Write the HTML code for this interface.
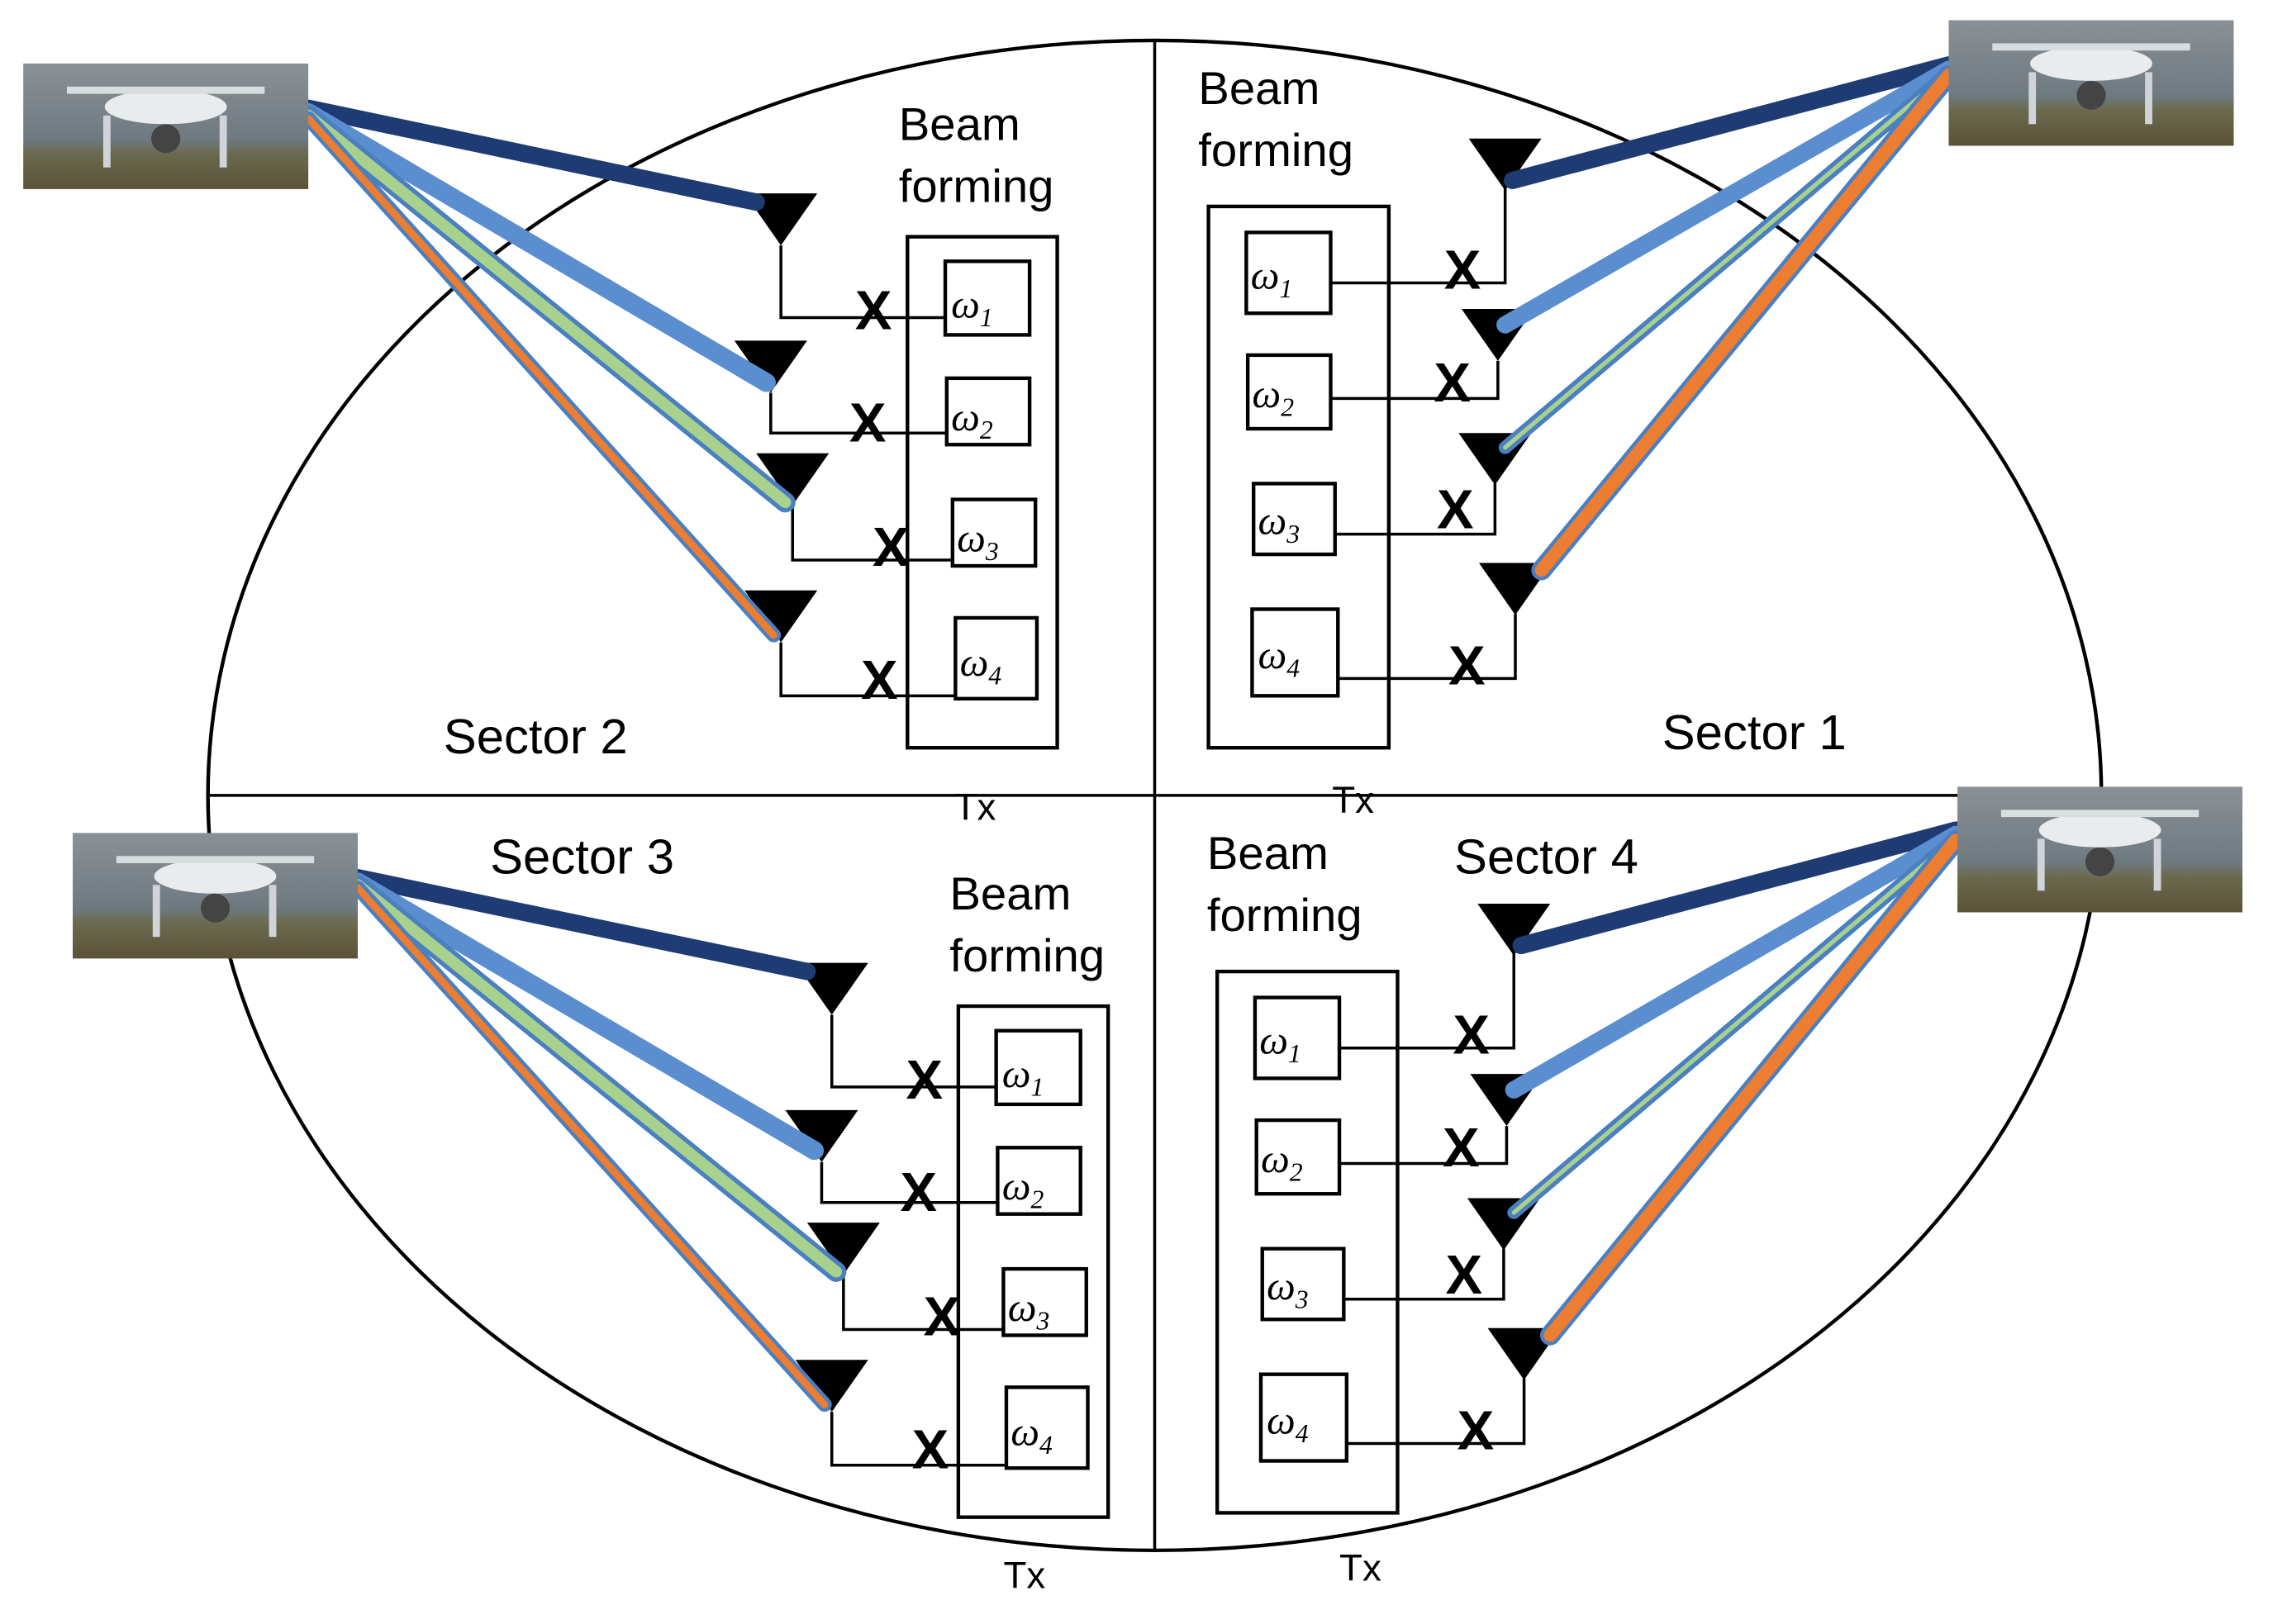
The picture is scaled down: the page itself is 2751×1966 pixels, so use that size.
<!DOCTYPE html>
<html><head><meta charset="utf-8"><style>
html,body{margin:0;padding:0;background:#fff;}
svg{display:block;}
text{font-family:"Liberation Sans",sans-serif;fill:#000;}
.w{font-family:"Liberation Serif",serif;font-style:italic;font-size:28px;}
.s{font-family:"Liberation Serif",serif;font-size:18px;}
.x{font-size:38px;font-weight:bold;}
.bf{font-size:32px;}
</style></head><body>
<svg width="2751" height="1966" viewBox="0 0 1563 1125" preserveAspectRatio="none" xmlns="http://www.w3.org/2000/svg">
<defs>
<linearGradient id="dg" x1="0" y1="0" x2="0" y2="1">
<stop offset="0" stop-color="#8a9096"/><stop offset="0.6" stop-color="#6f7a80"/><stop offset="0.72" stop-color="#6b6a4e"/><stop offset="1" stop-color="#5a5238"/></linearGradient>
<g id="drone">
<rect x="0" y="0" width="196" height="87" fill="url(#dg)"/>
<ellipse cx="98" cy="30" rx="42" ry="12" fill="#e8ecef"/>
<rect x="30" y="16" width="136" height="5" fill="#d8dde0"/>
<rect x="55" y="36" width="5" height="36" fill="#d0d4d8"/>
<rect x="135" y="36" width="5" height="36" fill="#d0d4d8"/>
<circle cx="98" cy="52" r="10" fill="#444"/>
</g>
<g id="tri"><polygon points="-25,0 25,0 0,36" fill="#000"/></g>
</defs>

<ellipse cx="794" cy="551" rx="651" ry="523" fill="none" stroke="#000" stroke-width="2.5"/>
<line x1="794" y1="28" x2="794" y2="1075" stroke="#000" stroke-width="2"/>
<line x1="143" y1="551" x2="1445" y2="551" stroke="#000" stroke-width="2"/>

<!-- Sector 2 -->
<g stroke="#000" stroke-width="2" fill="none">
<rect x="624" y="164" width="103" height="354" stroke-width="2.5"/>
<rect x="650" y="181" width="58" height="51" stroke-width="2.5"/>
<rect x="651" y="262" width="57" height="46" stroke-width="2.5"/>
<rect x="655" y="346" width="57" height="46" stroke-width="2.5"/>
<rect x="657" y="428" width="56" height="56" stroke-width="2.5"/>
<polyline points="537,170 537,220 650,220"/>
<polyline points="530,272 530,300 651,300"/>
<polyline points="545,350 545,388 655,388"/>
<polyline points="537,445 537,482 657,482"/>
</g>
<use href="#tri" x="537" y="134"/><use href="#tri" x="530" y="236"/><use href="#tri" x="545" y="314"/><use href="#tri" x="537" y="409"/>
<text class="x" x="588" y="228">X</text><text class="x" x="584" y="306">X</text><text class="x" x="600" y="392">X</text><text class="x" x="592" y="484">X</text>
<text class="w" x="654" y="220">ω<tspan class="s" dy="6">1</tspan></text>
<text class="w" x="654" y="298">ω<tspan class="s" dy="6">2</tspan></text>
<text class="w" x="658" y="382">ω<tspan class="s" dy="6">3</tspan></text>
<text class="w" x="660" y="468">ω<tspan class="s" dy="6">4</tspan></text>
<text class="bf" x="618" y="97">Beam</text><text class="bf" x="618" y="140">forming</text>
<text x="305" y="522" font-size="34">Sector 2</text>
<text x="656" y="568" font-size="26">Tx</text>

<!-- Sector 3 -->
<g transform="translate(35,533)">
<g stroke="#000" stroke-width="2" fill="none">
<rect x="624" y="164" width="103" height="354" stroke-width="2.5"/>
<rect x="650" y="181" width="58" height="51" stroke-width="2.5"/>
<rect x="651" y="262" width="57" height="46" stroke-width="2.5"/>
<rect x="655" y="346" width="57" height="46" stroke-width="2.5"/>
<rect x="657" y="428" width="56" height="56" stroke-width="2.5"/>
<polyline points="537,170 537,220 650,220"/>
<polyline points="530,272 530,300 651,300"/>
<polyline points="545,350 545,388 655,388"/>
<polyline points="537,445 537,482 657,482"/>
</g>
<use href="#tri" x="537" y="134"/><use href="#tri" x="530" y="236"/><use href="#tri" x="545" y="314"/><use href="#tri" x="537" y="409"/>
<text class="x" x="588" y="228">X</text><text class="x" x="584" y="306">X</text><text class="x" x="600" y="392">X</text><text class="x" x="592" y="484">X</text>
<text class="w" x="654" y="220">ω<tspan class="s" dy="6">1</tspan></text>
<text class="w" x="654" y="298">ω<tspan class="s" dy="6">2</tspan></text>
<text class="w" x="658" y="382">ω<tspan class="s" dy="6">3</tspan></text>
<text class="w" x="660" y="468">ω<tspan class="s" dy="6">4</tspan></text>
<text class="bf" x="618" y="97">Beam</text><text class="bf" x="618" y="140">forming</text>
</g>
<text x="337" y="605" font-size="34">Sector 3</text>
<text x="690" y="1100" font-size="26">Tx</text>

<!-- Sector 1 -->
<g>
<g stroke="#000" stroke-width="2" fill="none">
<rect x="831" y="143" width="124" height="375" stroke-width="2.5"/>
<rect x="857" y="161" width="58" height="56" stroke-width="2.5"/>
<rect x="858" y="246" width="57" height="51" stroke-width="2.5"/>
<rect x="862" y="335" width="56" height="49" stroke-width="2.5"/>
<rect x="861" y="422" width="59" height="60" stroke-width="2.5"/>
<polyline points="1035,130 1035,196 915,196"/>
<polyline points="1030,250 1030,276 915,276"/>
<polyline points="1028,335 1028,370 918,370"/>
<polyline points="1042,425 1042,470 920,470"/>
</g>
<use href="#tri" x="1035" y="96"/><use href="#tri" x="1030" y="214"/><use href="#tri" x="1028" y="300"/><use href="#tri" x="1042" y="390"/>
<text class="x" x="993" y="200">X</text><text class="x" x="986" y="278">X</text><text class="x" x="988" y="366">X</text><text class="x" x="996" y="474">X</text>
<text class="w" x="860" y="200">ω<tspan class="s" dy="6">1</tspan></text>
<text class="w" x="861" y="282">ω<tspan class="s" dy="6">2</tspan></text>
<text class="w" x="865" y="370">ω<tspan class="s" dy="6">3</tspan></text>
<text class="w" x="865" y="463">ω<tspan class="s" dy="6">4</tspan></text>
<text class="bf" x="824" y="72">Beam</text><text class="bf" x="824" y="115">forming</text>
</g>
<text x="1143" y="519" font-size="34">Sector 1</text>
<text x="916" y="563" font-size="26">Tx</text>

<!-- Sector 4 -->
<g transform="translate(6,530)">
<g stroke="#000" stroke-width="2" fill="none">
<rect x="831" y="143" width="124" height="375" stroke-width="2.5"/>
<rect x="857" y="161" width="58" height="56" stroke-width="2.5"/>
<rect x="858" y="246" width="57" height="51" stroke-width="2.5"/>
<rect x="862" y="335" width="56" height="49" stroke-width="2.5"/>
<rect x="861" y="422" width="59" height="60" stroke-width="2.5"/>
<polyline points="1035,130 1035,196 915,196"/>
<polyline points="1030,250 1030,276 915,276"/>
<polyline points="1028,335 1028,370 918,370"/>
<polyline points="1042,425 1042,470 920,470"/>
</g>
<use href="#tri" x="1035" y="96"/><use href="#tri" x="1030" y="214"/><use href="#tri" x="1028" y="300"/><use href="#tri" x="1042" y="390"/>
<text class="x" x="993" y="200">X</text><text class="x" x="986" y="278">X</text><text class="x" x="988" y="366">X</text><text class="x" x="996" y="474">X</text>
<text class="w" x="860" y="200">ω<tspan class="s" dy="6">1</tspan></text>
<text class="w" x="861" y="282">ω<tspan class="s" dy="6">2</tspan></text>
<text class="w" x="865" y="370">ω<tspan class="s" dy="6">3</tspan></text>
<text class="w" x="865" y="463">ω<tspan class="s" dy="6">4</tspan></text>
<text class="bf" x="824" y="72">Beam</text><text class="bf" x="824" y="115">forming</text>
</g>
<text x="1000" y="605" font-size="34">Sector 4</text>
<text x="921" y="1095" font-size="26">Tx</text>

<!-- Beams -->
<g stroke-linecap="round" fill="none">
<line x1="212" y1="75" x2="520" y2="140" stroke="#1f3b73" stroke-width="12"/>
<line x1="212" y1="78" x2="527" y2="265" stroke="#5b8ed0" stroke-width="13"/>
<line x1="212" y1="80" x2="540" y2="348" stroke="#4a7fc0" stroke-width="14"/>
<line x1="212" y1="80" x2="540" y2="348" stroke="#a9d18e" stroke-width="8"/>
<line x1="212" y1="82" x2="532" y2="440" stroke="#4a7fc0" stroke-width="10"/>
<line x1="212" y1="82" x2="532" y2="440" stroke="#ed7d31" stroke-width="5"/>

<line x1="246" y1="608" x2="555" y2="673" stroke="#1f3b73" stroke-width="12"/>
<line x1="246" y1="611" x2="560" y2="797" stroke="#5b8ed0" stroke-width="13"/>
<line x1="246" y1="613" x2="575" y2="881" stroke="#4a7fc0" stroke-width="14"/>
<line x1="246" y1="613" x2="575" y2="881" stroke="#a9d18e" stroke-width="8"/>
<line x1="246" y1="615" x2="567" y2="973" stroke="#4a7fc0" stroke-width="10"/>
<line x1="246" y1="615" x2="567" y2="973" stroke="#ed7d31" stroke-width="5"/>

<line x1="1340" y1="45" x2="1040" y2="125" stroke="#1f3b73" stroke-width="12"/>
<line x1="1340" y1="48" x2="1035" y2="225" stroke="#5b8ed0" stroke-width="12"/>
<line x1="1340" y1="50" x2="1035" y2="310" stroke="#4a7fc0" stroke-width="9"/>
<line x1="1340" y1="50" x2="1035" y2="310" stroke="#a9d18e" stroke-width="3"/>
<line x1="1340" y1="52" x2="1060" y2="395" stroke="#4a7fc0" stroke-width="14"/>
<line x1="1340" y1="52" x2="1060" y2="395" stroke="#ed7d31" stroke-width="9"/>

<line x1="1345" y1="575" x2="1046" y2="655" stroke="#1f3b73" stroke-width="12"/>
<line x1="1345" y1="578" x2="1041" y2="755" stroke="#5b8ed0" stroke-width="12"/>
<line x1="1345" y1="580" x2="1041" y2="840" stroke="#4a7fc0" stroke-width="9"/>
<line x1="1345" y1="580" x2="1041" y2="840" stroke="#a9d18e" stroke-width="3"/>
<line x1="1345" y1="582" x2="1066" y2="925" stroke="#4a7fc0" stroke-width="14"/>
<line x1="1345" y1="582" x2="1066" y2="925" stroke="#ed7d31" stroke-width="9"/>
</g>

<use href="#drone" x="16" y="44"/>
<use href="#drone" x="1340" y="14"/>
<use href="#drone" x="50" y="577"/>
<use href="#drone" x="1346" y="545"/>
</svg>
</body></html>
